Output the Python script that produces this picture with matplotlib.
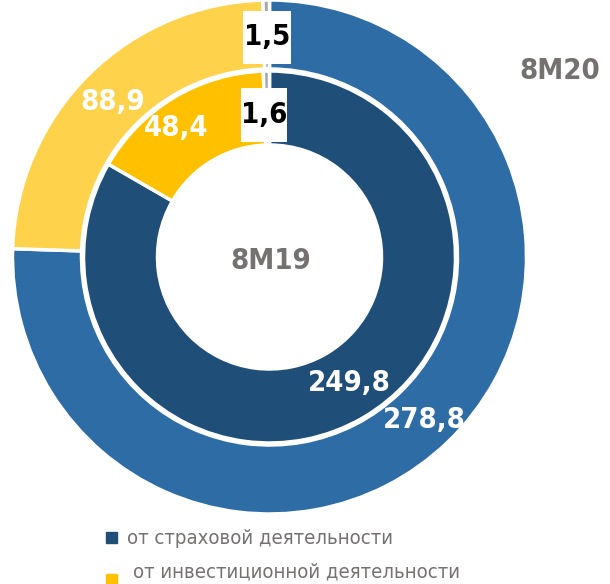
import matplotlib.pyplot as plt
from matplotlib.patches import Rectangle

# data
outer_vals = [278.8, 88.9, 1.5]   # 8M20
inner_vals = [249.8, 48.4, 1.6]   # 8M19
outer_labels = ['278,8', '88,9', '1,5']
inner_labels = ['249,8', '48,4', '1,6']
legend_labels = ['от страховой деятельности', 'от инвестиционной деятельности']

outer_colors = ['#2D6CA5', '#FFD24C', '#A6A6A6']
inner_colors = ['#1F4E79', '#FFC000', '#A6A6A6']
grey = '#767171'
fam = ['DejaVu Sans']

W, H = 610, 584
fig = plt.figure(figsize=(W / 100, H / 100), dpi=100)
ax = fig.add_axes([0, 0, 1, 1])

cx, cy = 269.5, H - 257
ax.pie(outer_vals, colors=outer_colors, radius=257, center=(cx, cy),
       startangle=90, counterclock=False,
       wedgeprops=dict(width=69, edgecolor='white', linewidth=2.5))
ax.pie(inner_vals, colors=inner_colors, radius=186, center=(cx, cy),
       startangle=90, counterclock=False,
       wedgeprops=dict(width=74, edgecolor='white', linewidth=2.5))
ax.set_xlim(0, W)
ax.set_ylim(0, H)
ax.set_aspect('equal')
ax.axis('off')


def txt(x, y, s, size, color='white', box=None):
    if box:
        bw, bh = box
        ax.add_patch(Rectangle((x - bw / 2, H - y - bh / 2), bw, bh,
                               fc='white', ec='none', zorder=3))
    ax.text(x, H - y, s, ha='center', va='center', fontsize=size, color=color,
            fontweight='bold', family=fam, fontstretch='condensed', zorder=4)


# value labels
txt(424, 420, outer_labels[0], 21)
txt(113, 102, outer_labels[1], 21)
txt(267, 37, outer_labels[2], 21, color='black', box=(48, 53))
txt(349, 383, inner_labels[0], 21)
txt(176, 128, inner_labels[1], 21)
txt(264, 115, inner_labels[2], 21, color='black', box=(46, 54))

# ring captions
txt(560, 71, '8M20', 21, color=grey)
txt(271, 261, '8M19', 21, color=grey)

# legend
for i, (lab, col) in enumerate(zip(legend_labels, inner_colors[:2])):
    y = 539 + i * 33
    sq = 537.5 + i * 42
    ax.add_patch(Rectangle((106, H - sq - 5.5), 11, 11, color=col))
    ax.text(127 + i * 6, H - y, lab, ha='left', va='center', fontsize=14.6,
            color=grey, family=fam, fontstretch='condensed')

fig.savefig('out.png', dpi=100)
